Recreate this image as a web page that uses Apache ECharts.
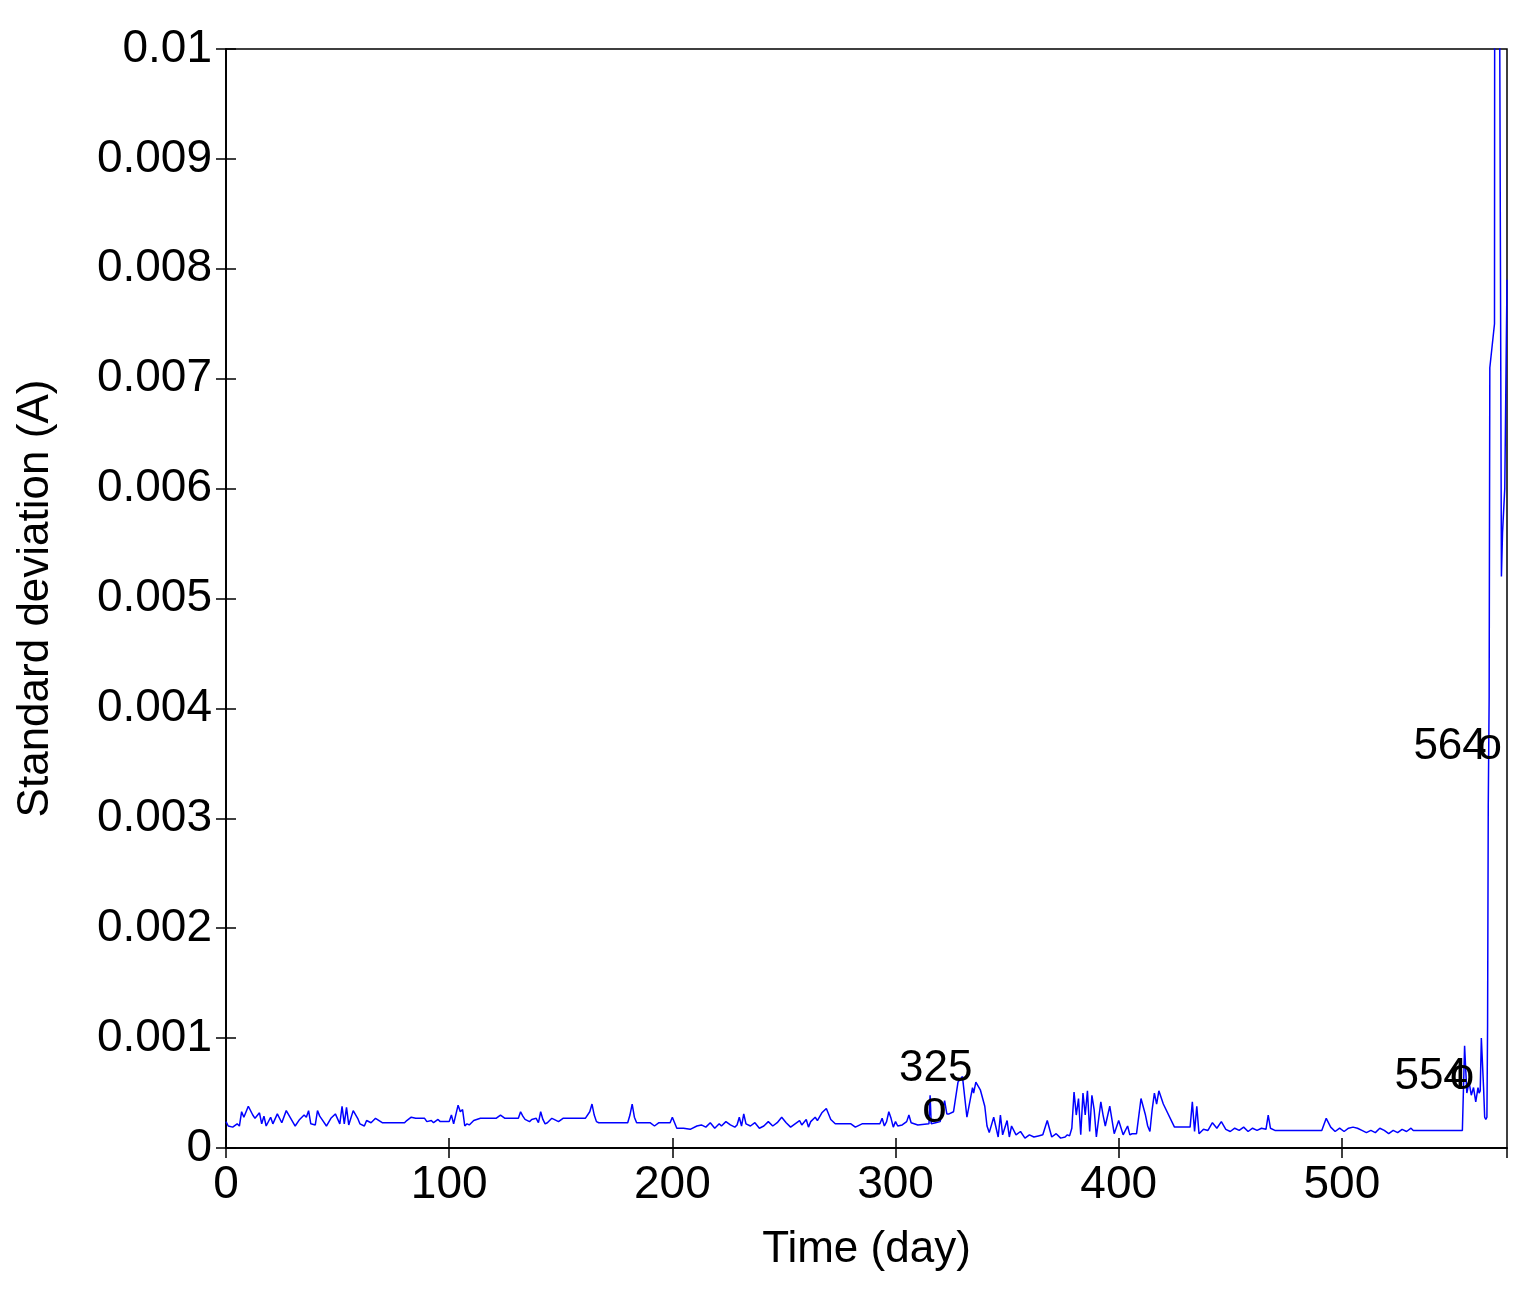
<!DOCTYPE html>
<html><head><meta charset="utf-8">
<script src="https://cdn.jsdelivr.net/npm/echarts@6/dist/echarts.min.js"></script>
<style>html,body{margin:0;padding:0;background:#fff}#c{width:1535px;height:1299px}</style>
</head><body><div id="c"></div>
<script>
const days = [0,1,3,5,6,7,8,10,12,13,15,16,17,18,20,21,23,25,27,29,31,33,35,36,37,38,40,41,42,43,45,47,49,51,52,53,54,55,57,59,60,62,63,65,67,70,75,80,81,83,85,89,90,92,93,95,96,100,101,102,104,105,106,107,108,109,111,114,118,121,123,125,131,132,133,134,136,137,139,140,141,142,143,144,146,147,149,151,155,157,161,163,164,165,166,167,180,181,182,183,184,190,192,194,199,200,201,202,205,208,211,213,215,217,219,221,222,224,226,228,229,230,231,232,233,235,237,239,241,243,245,247,249,251,253,255,257,258,260,261,262,264,265,267,269,271,273,280,282,285,293,294,295,296,297,298,299,300,301,303,305,306,307,310,315,315.5,316,318,320,322,323,324,326,328,330,332,334.5,335,336,338,340,341,342,344,346,347,348,350,351,352,354,356,358,360,362,364,366,368,370,372,374,376,377,378,379,380,381,382,383,384,385,386,387,388,389,390,392,393,394,396,398,400,402,404,405,406,407,408,410,412,413,414,415,416,417,418,420,425,430,431,432,433,434,435,436,438,440,442,444,446,448,450,452,454,456,458,460,462,464,466,467,468,470,480,490,491,493,495,497,499,501,503,505,507,509,511,513,515,517,519,521,523,525,527,529,531,532,540,554,554.5,555,556,557,558,559,560,561,561.5,562,562.5,563.5,564,564.5,565,565.3,565.6,566,566.3,568.4,568.6,570,571.5,572,573,574];
const values = [0.00024,0.00020,0.00019,0.00022,0.00020,0.00033,0.00028,0.00038,0.00030,0.00027,0.00032,0.00022,0.00029,0.00020,0.00028,0.00022,0.00031,0.00023,0.00034,0.00027,0.00020,0.00026,0.00030,0.00028,0.00034,0.00022,0.00021,0.00034,0.00029,0.00026,0.00020,0.00027,0.00031,0.00022,0.00038,0.00022,0.00037,0.00021,0.00034,0.00027,0.00022,0.00020,0.00025,0.00023,0.00027,0.00023,0.00023,0.00023,0.00025,0.00028,0.00027,0.00027,0.00024,0.00025,0.00023,0.00026,0.00024,0.00024,0.00030,0.00022,0.00039,0.00033,0.00035,0.00020,0.00022,0.00021,0.00025,0.00027,0.00027,0.00027,0.00030,0.00027,0.00027,0.00033,0.00029,0.00026,0.00024,0.00026,0.00027,0.00023,0.00033,0.00026,0.00022,0.00023,0.00027,0.00026,0.00024,0.00027,0.00027,0.00027,0.00027,0.00033,0.00040,0.00030,0.00024,0.00023,0.00023,0.00030,0.00040,0.00028,0.00023,0.00023,0.00020,0.00023,0.00023,0.00028,0.00023,0.00018,0.00018,0.00017,0.00020,0.00021,0.00019,0.00023,0.00018,0.00022,0.00020,0.00024,0.00021,0.00019,0.00021,0.00028,0.00020,0.00031,0.00022,0.00020,0.00023,0.00018,0.00020,0.00024,0.00020,0.00023,0.00028,0.00023,0.00019,0.00022,0.00025,0.00021,0.00026,0.00019,0.00024,0.00028,0.00025,0.00032,0.00036,0.00026,0.00022,0.00022,0.00019,0.00022,0.00022,0.00027,0.00020,0.00024,0.00033,0.00027,0.00019,0.00024,0.00020,0.00021,0.00024,0.00030,0.00023,0.00021,0.00022,0.00048,0.00022,0.00023,0.00024,0.00043,0.00031,0.00031,0.00033,0.00060,0.00065,0.00028,0.00055,0.00050,0.00060,0.00053,0.00038,0.00020,0.00014,0.00028,0.00010,0.00030,0.00012,0.00025,0.00010,0.00020,0.00012,0.00015,0.00009,0.00012,0.00010,0.00011,0.00012,0.00025,0.00010,0.00013,0.00009,0.00010,0.00012,0.00011,0.00018,0.00051,0.00030,0.00045,0.00012,0.00050,0.00030,0.00052,0.00015,0.00048,0.00035,0.00010,0.00042,0.00030,0.00020,0.00038,0.00013,0.00025,0.00012,0.00020,0.00012,0.00013,0.00013,0.00013,0.00045,0.00030,0.00020,0.00015,0.00035,0.00050,0.00040,0.00052,0.00040,0.00019,0.00019,0.00019,0.00019,0.00042,0.00015,0.00038,0.00013,0.00017,0.00016,0.00023,0.00018,0.00024,0.00017,0.00015,0.00018,0.00016,0.00019,0.00015,0.00018,0.00016,0.00018,0.00017,0.00030,0.00018,0.00016,0.00016,0.00016,0.00016,0.00027,0.00019,0.00015,0.00018,0.00015,0.00018,0.00019,0.00018,0.00016,0.00014,0.00016,0.00014,0.00018,0.00016,0.00013,0.00016,0.00014,0.00017,0.00015,0.00018,0.00016,0.00016,0.00016,0.00016,0.00093,0.00050,0.00060,0.00048,0.00055,0.00042,0.00055,0.00050,0.00052,0.00100,0.00055,0.00028,0.00026,0.00028,0.00112,0.00310,0.00410,0.00710,0.00750,0.01500,0.01500,0.00520,0.00560,0.00600,0.00790,0.00800,0.00820];
const annotations = [
  {day:318, value:0.00072, text:'325'},
  {day:317.5, value:0.00035, text:'o'},
  {day:540, value:0.00065, text:'554'},
  {day:553.8, value:0.00065, text:'o'},
  {day:548.5, value:0.00365, text:'564'},
  {day:566.3, value:0.00365, text:'o'}
];
const xTicks = [0,100,200,300,400,500];
const chart = echarts.init(document.getElementById('c'));
const font = 'Liberation Sans, Arial, sans-serif';
const lbl = {color:'#000', fontSize:46, fontFamily:font};
const tick = {inside:true,length:10,lineStyle:{color:'#000',width:1.5}};
chart.setOption({
  animation:false,
  grid:{left:226,right:28,top:49,bottom:151,show:true,borderColor:'#000',borderWidth:1.5,outerBoundsMode:'none',containLabel:false},
  xAxis:[{type:'value',min:0,max:574,interval:100,name:'Time (day)',nameLocation:'middle',nameGap:80,
    nameTextStyle:{color:'#000',fontSize:44,fontFamily:font},
    axisLine:{show:true,lineStyle:{color:'#000',width:1.5}},axisTick:tick,
    axisLabel:{...lbl,margin:14,showMaxLabel:false,formatter:v=>xTicks.includes(v)?String(v):''},splitLine:{show:false}},
   {type:'value',position:'top',min:0,max:574,interval:100,axisLine:{show:true,lineStyle:{color:'#000',width:1.5}},
    axisTick:tick,axisLabel:{show:false},splitLine:{show:false}}],
  yAxis:[{type:'value',min:0,max:0.01,interval:0.001,name:'Standard deviation (A)',nameLocation:'middle',nameGap:168,
    nameTextStyle:{color:'#000',fontSize:44,fontFamily:font},
    axisLine:{show:true,lineStyle:{color:'#000',width:1.5}},axisTick:tick,
    axisLabel:{...lbl,margin:14,formatter:v=>v===0?'0':(Math.abs(v-0.01)<1e-9?'0.01':v.toFixed(3))},splitLine:{show:false}},
   {type:'value',position:'right',min:0,max:0.01,interval:0.001,axisLine:{show:true,lineStyle:{color:'#000',width:1.5}},
    axisTick:tick,axisLabel:{show:false},splitLine:{show:false}}],
  series:[
    {type:'line',data:days.map((d,i)=>[d,values[i]]),showSymbol:false,clip:true,
     lineStyle:{color:'#0000ff',width:1.5},itemStyle:{color:'#0000ff'}},
    {type:'scatter',symbolSize:0,itemStyle:{color:'#000'},silent:true,z:5,
     label:{show:true,position:'inside',color:'#000',opacity:1,fontSize:44,fontFamily:font},
     data:annotations.map(a=>({value:[a.day,a.value],label:{formatter:a.text}}))}
  ]
});
</script></body></html>
